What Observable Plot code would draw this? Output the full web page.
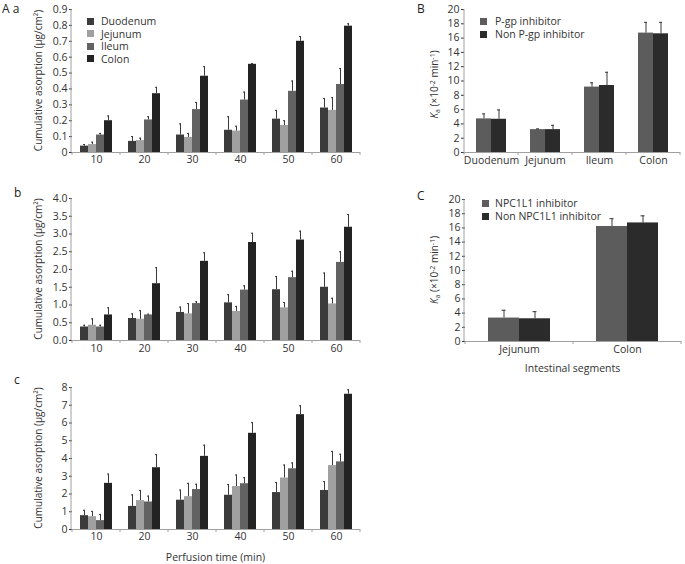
<!DOCTYPE html>
<html><head><meta charset="utf-8">
<script src="https://cdn.jsdelivr.net/npm/d3@7"></script>
<script src="https://cdn.jsdelivr.net/npm/@observablehq/plot@0.6"></script>
<style>
body{margin:0;background:#fff;}
#root{position:relative;width:685px;height:564px;overflow:hidden;font-family:"Open Sans",sans-serif;color:#333;}
.p{position:absolute;}
.letter{position:absolute;font-size:12px;line-height:normal;color:#222;white-space:pre;}
.leg{position:absolute;font-size:10.5px;color:#333;}
.leg .row{display:flex;align-items:center;white-space:nowrap;}
.leg .sw{display:inline-block;width:7px;height:7px;}
</style></head><body><div id="root"></div>
<script>
// ---------- data ----------
const times = [10, 20, 30, 40, 50, 60];
const segments = ["Duodenum", "Jejunum", "Ileum", "Colon"];
const segmentColors = ["#3b3b3b", "#a0a0a0", "#626262", "#232323"];

// panel a (rows: perfusion time, columns: Duodenum, Jejunum, Ileum, Colon)
const absorptionA = [[0.04,0.05,0.11,0.20],[0.07,0.075,0.205,0.37],[0.11,0.095,0.27,0.48],[0.14,0.135,0.33,0.555],[0.21,0.17,0.385,0.70],[0.28,0.265,0.428,0.795]];
const errorA = [[0.01,0.015,0.01,0.03],[0.03,0.015,0.02,0.04],[0.07,0.025,0.045,0.06],[0.085,0.03,0.05,0.005],[0.055,0.03,0.065,0.03],[0.06,0.08,0.10,0.015]];
// panel b
const absorptionB = [[0.38,0.43,0.38,0.72],[0.62,0.60,0.72,1.60],[0.79,0.75,1.04,2.23],[1.06,0.82,1.42,2.76],[1.43,0.92,1.77,2.83],[1.50,1.03,2.20,3.19]];
const errorB = [[0.05,0.18,0.05,0.20],[0.13,0.24,0.02,0.45],[0.15,0.29,0.05,0.24],[0.23,0.14,0.12,0.26],[0.37,0.15,0.18,0.25],[0.40,0.16,0.30,0.36]];
// panel c
const absorptionC = [[0.78,0.72,0.50,2.60],[1.30,1.63,1.55,3.48],[1.65,1.85,2.25,4.12],[1.93,2.42,2.58,5.42],[2.08,2.90,3.42,6.47],[2.20,3.60,3.81,7.62]];
const errorC = [[0.30,0.30,0.35,0.52],[0.65,0.57,0.33,0.74],[0.57,0.75,0.30,0.63],[0.60,0.65,0.34,0.60],[0.57,0.73,0.33,0.50],[0.50,0.80,0.43,0.25]];

// Panel B: Ka by segment, P-gp inhibitor
const pgpSeries = ["P-gp inhibitor", "Non P-gp inhibitor"];
const pgpInhibitor = [4.7, 3.2, 9.15, 16.7];
const pgpInhibitorErr = [0.7, 0.1, 0.6, 1.5];
const nonPgpInhibitor = [4.65, 3.2, 9.37, 16.6];
const nonPgpInhibitorErr = [1.3, 0.6, 1.85, 1.6];

// Panel C: Ka by segment, NPC1L1 inhibitor
const npcSegments = ["Jejunum", "Colon"];
const npcSeries = ["NPC1L1 inhibitor", "Non NPC1L1 inhibitor"];
const npcInhibitor = [3.3, 16.2];
const npcInhibitorErr = [1.1, 1.1];
const nonNpcInhibitor = [3.2, 16.7];
const nonNpcInhibitorErr = [1.0, 1.0];
const inhibitorColors = ["#5c5c5c", "#2b2b2b"];

// tick values
const ticksA = d3.range(10).map(i => i / 10);
const ticksB = d3.range(9).map(i => i / 2);
const ticksC = d3.range(9);
const ticksK = d3.range(0, 21, 2);

// ---------- drawing ----------
const FONT = '"Open Sans", sans-serif';
const root = document.getElementById("root");

function place(el, left, top) {
  el.classList.add("p");
  el.style.left = left + "px";
  el.style.top = top + "px";
  root.appendChild(el);
}

function yTitle(svg, cx, cy, parts) {
  const size = 10;
  const t = d3.select(svg).append("text")
    .attr("transform", `translate(${cx + size * 0.35},${cy}) rotate(-90)`)
    .attr("text-anchor", "middle")
    .attr("font-family", FONT)
    .attr("font-size", size)
    .attr("fill", "#333");
  for (const p of parts) {
    const s = t.append("tspan").text(p.t);
    if (p.s) s.attr("font-size", p.s);
    if (p.i) s.attr("font-style", "italic");
    if (p.dy) s.attr("dy", p.dy);
  }
}

function groupedPanel(o) {
  const rows = [];
  o.groups.forEach((g, i) => o.series.forEach((s, j) => rows.push({g, s, v: o.values[i][j], e: o.errors[i][j]})));
  const plot = Plot.plot({
    width: o.width, height: o.height,
    marginLeft: o.ml, marginRight: o.mr, marginTop: o.mt, marginBottom: o.mb,
    style: {fontFamily: FONT, fontSize: "10.5px", color: "#333", background: "transparent", overflow: "visible"},
    facet: {data: rows, x: "g"},
    fx: {domain: o.groups, padding: 0, axis: null},
    x: {domain: o.series, paddingInner: 0, paddingOuter: o.padOuter, axis: null},
    y: {domain: o.yDomain, ticks: o.yTicks, tickFormat: o.yFormat, tickSize: 3, tickPadding: 2, label: null},
    color: {domain: o.series, range: o.colors},
    marks: [
      Plot.barY(rows, {x: "s", y: "v", fill: "s"}),
      Plot.ruleX(rows, {x: "s", y1: "v", y2: d => d.v + d.e, stroke: "#3a3a3a", strokeWidth: 1}),
      Plot.tickY(rows, {x: "s", y: d => d.v + d.e, insetLeft: o.cap, insetRight: o.cap, stroke: "#3a3a3a", strokeWidth: 1}),
      Plot.ruleY([0], {stroke: "#a0a0a0"}),
      // category (group) labels, one per facet, centred under each group
      Plot.text(rows, {filter: d => d.s === o.series[0], text: d => String(d.g), frameAnchor: "bottom", dy: o.labelDy, fill: "#333", fontSize: 10.5})
    ]
  });
  const svg = plot;
  const sel = d3.select(svg);
  sel.selectAll('[aria-label="y-axis tick"]').attr("stroke", "#999");
  const y0 = o.height - o.mb;
  // y axis line
  sel.append("line").attr("x1", o.ml).attr("x2", o.ml).attr("y1", o.mt).attr("y2", y0).attr("stroke", "#a0a0a0");
  // group boundary ticks
  const fx = plot.scale("fx");
  const bounds = o.groups.map(g => fx.apply(g)).concat([fx.apply(o.groups[o.groups.length - 1]) + fx.bandwidth]);
  for (const b of bounds) sel.append("line").attr("x1", b).attr("x2", b).attr("y1", y0).attr("y2", y0 + 3).attr("stroke", "#a0a0a0");
  yTitle(svg, o.titleX, (o.mt + y0) / 2 + (o.titleDy || 0), o.title);
  if (o.xLabel) {
    sel.append("text").attr("x", (o.ml + o.width - o.mr) / 2).attr("y", y0 + o.xLabelDy)
      .attr("text-anchor", "middle").attr("dominant-baseline", "central")
      .attr("font-family", FONT).attr("font-size", 10.5).attr("fill", "#333").text(o.xLabel);
  }
  place(svg, o.left, o.top);
  return plot;
}

function legend(names, colors, left, top, lineH, gap) {
  const d = document.createElement("div");
  d.className = "leg";
  d.style.left = left + "px"; d.style.top = top + "px";
  names.forEach((n, i) => {
    const r = document.createElement("div"); r.className = "row"; r.style.height = lineH + "px";
    const sw = document.createElement("span"); sw.className = "sw"; sw.style.background = colors[i]; sw.style.marginRight = gap + "px";
    const tx = document.createElement("span"); tx.textContent = n;
    r.appendChild(sw); r.appendChild(tx); d.appendChild(r);
  });
  root.appendChild(d);
}

function letter(txt, left, top) {
  const d = document.createElement("div");
  d.className = "letter"; d.textContent = txt;
  d.style.left = left + "px"; d.style.top = top + "px";
  root.appendChild(d);
}

const cumTitle = [{t: "Cumulative asorption (μg/cm²)"}];
const kaTitle = [{t: "K", i: true}, {t: "a", s: 7, dy: 2}, {t: " (×10", dy: -2}, {t: "-2", s: 7, dy: -3}, {t: " min", dy: 3}, {t: "-1", s: 7, dy: -3}, {t: ")", dy: 3}];
const fmt1 = d => d === 0 ? "0" : d3.format(".1f")(d);

groupedPanel({left: 0, top: 0, width: 365, height: 175, ml: 71, mr: 5, mt: 9, mb: 23, labelDy: 10,
  groups: times, series: segments, colors: segmentColors, values: absorptionA, errors: errorA,
  yDomain: [0, 0.9], yTicks: ticksA, yFormat: fmt1, padOuter: 0.75, cap: 3, titleX: 38, title: cumTitle});
groupedPanel({left: 0, top: 189, width: 365, height: 174, ml: 71, mr: 5, mt: 9, mb: 23, labelDy: 11,
  groups: times, series: segments, colors: segmentColors, values: absorptionB, errors: errorB,
  yDomain: [0, 4], yTicks: ticksB, yFormat: d3.format(".1f"), padOuter: 0.75, cap: 3, titleX: 38, title: cumTitle});
groupedPanel({left: 0, top: 378, width: 365, height: 187, ml: 71, mr: 5, mt: 9, mb: 36, labelDy: 10,
  xLabel: "Perfusion time (min)", xLabelDy: 28,
  groups: times, series: segments, colors: segmentColors, values: absorptionC, errors: errorC,
  yDomain: [0, 8], yTicks: ticksC, yFormat: d3.format("d"), padOuter: 0.75, cap: 3, titleX: 38, title: cumTitle});

const valuesK = segments.map((s, i) => [pgpInhibitor[i], nonPgpInhibitor[i]]);
const errorsK = segments.map((s, i) => [pgpInhibitorErr[i], nonPgpInhibitorErr[i]]);
groupedPanel({left: 400, top: 0, width: 285, height: 175, ml: 64, mr: 5, mt: 9, mb: 23, labelDy: 11,
  groups: segments, series: pgpSeries, colors: inhibitorColors, values: valuesK, errors: errorsK,
  yDomain: [0, 20], yTicks: ticksK, yFormat: d3.format("d"), padOuter: 0.8, cap: 6, titleX: 34, titleDy: 4, title: kaTitle});

const valuesN = npcSegments.map((s, i) => [npcInhibitor[i], nonNpcInhibitor[i]]);
const errorsN = npcSegments.map((s, i) => [npcInhibitorErr[i], nonNpcInhibitorErr[i]]);
groupedPanel({left: 400, top: 190, width: 285, height: 187, ml: 64, mr: 4, mt: 9, mb: 36, labelDy: 11,
  xLabel: "Intestinal segments", xLabelDy: 27,
  groups: npcSegments, series: npcSeries, colors: inhibitorColors, values: valuesN, errors: errorsN,
  yDomain: [0, 20], yTicks: ticksK, yFormat: d3.format("d"), padOuter: 0.71, cap: 13.5, titleX: 34, title: kaTitle});

legend(segments, segmentColors, 87, 15, 12.5, 7);
legend(pgpSeries, inhibitorColors, 480, 14.5, 13, 8);
legend(npcSeries, inhibitorColors, 482, 196.5, 13, 6);

letter("A a", 2, 0);
letter("b", 14, 184);
letter("c", 14, 371);
letter("B", 417, 0);
letter("C", 417, 187);
</script></body></html>
